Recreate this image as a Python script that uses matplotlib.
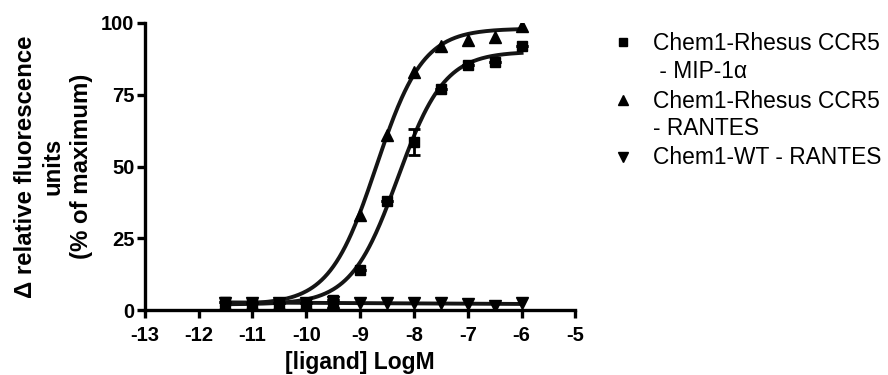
import numpy as np
import matplotlib
matplotlib.use("Agg")
import matplotlib.pyplot as plt
from matplotlib.lines import Line2D

plt.rcParams['font.family'] = ['Liberation Sans', 'DejaVu Sans']
plt.rcParams['axes.unicode_minus'] = False

# data
log_conc = [-11.5, -11, -10.5, -10, -9.5, -9, -8.5, -8, -7.5, -7, -6.5, -6]
mip_rhesus = [3, 2.5, 2.5, 2.5, 3.5, 14, 38, 58.5, 77, 85.5, 86.5, 92]
mip_err = [0, 0, 0, 0, 0, 0, 0, 4.5, 0, 0, 0, 0]
rantes_rhesus = [2, 2, 2, 2, 3, 33, 61, 83, 92, 94, 95, 99]
rantes_wt = [2.5, 2.5, 2.5, 2.5, 3, 2.5, 2.5, 2.5, 2.5, 2, 1.5, 2.5]

# fitted curve parameters (bottom, top, logEC50, hill)
fit_mip = (2, 90, -8.3, 1.0)
fit_rantes = (2, 98, -8.7, 1.0)

labels = ["Chem1-Rhesus CCR5\n - MIP-1\u03b1",
          "Chem1-Rhesus CCR5\n- RANTES",
          "Chem1-WT - RANTES"]
markers = ["s", "^", "v"]


def four_pl(x, p):
    b, t, ec, h = p
    return b + (t - b) / (1 + 10 ** ((ec - x) * h))


fig = plt.figure(figsize=(8.88, 3.75), dpi=100)
ax = fig.add_axes([0.163, 0.173, 0.485, 0.766])

xs = np.linspace(-11.5, -6, 300)
lc = "#151515"
ax.plot(xs, four_pl(xs, fit_mip), color=lc, lw=2.8, zorder=2)
ax.plot(xs, four_pl(xs, fit_rantes), color=lc, lw=2.8, zorder=2)
k = np.polyfit(log_conc, rantes_wt, 1)
ax.plot(xs, np.polyval(k, xs), color=lc, lw=2.8, zorder=2)

ax.errorbar(log_conc, mip_rhesus, yerr=mip_err, fmt="s", color="black",
            ms=7, capsize=4.5, elinewidth=2, capthick=2, zorder=3)
ax.plot(log_conc, rantes_rhesus, "^", color="black", ms=8.5, zorder=3)
ax.plot(log_conc, rantes_wt, "v", color="black", ms=8.5, zorder=3)

ax.set_xlim(-13, -5)
ax.set_ylim(0, 100)
ax.set_xticks(range(-13, -4))
ax.set_yticks([0, 25, 50, 75, 100])
for s in ["top", "right"]:
    ax.spines[s].set_visible(False)
for s in ["left", "bottom"]:
    ax.spines[s].set_linewidth(2.4)
ax.tick_params(width=2.4, length=5.5, labelsize=14.5)
ax.tick_params(axis="x", pad=6)
ax.tick_params(axis="y", pad=2)
for t in ax.get_xticklabels() + ax.get_yticklabels():
    t.set_fontweight("bold")

ax.set_xlabel("[ligand] LogM", fontsize=16.5, fontweight="bold", labelpad=4)
ax.set_ylabel("\u0394 relative fluorescence\nunits\n(% of maximum)",
              fontsize=17.3, fontweight="bold", linespacing=1.27, labelpad=6)

# legend drawn by hand, one text line per slot, marker on the first line
slot_px = [42, 71, 100, 128, 157]
slot = 0
for lab, m in zip(labels, markers):
    y0 = 1 - slot_px[slot] / 375
    fig.add_artist(Line2D([623 / 888], [y0], marker=m, color="black",
                          ms=6 if m == "s" else 7, transform=fig.transFigure))
    for line in lab.split("\n"):
        yb = 1 - (slot_px[slot] + 7.5) / 375
        fig.text(653 / 888, yb, line, fontsize=16.4, va="baseline", ha="left")
        slot += 1

fig.savefig("out.png", dpi=100)
